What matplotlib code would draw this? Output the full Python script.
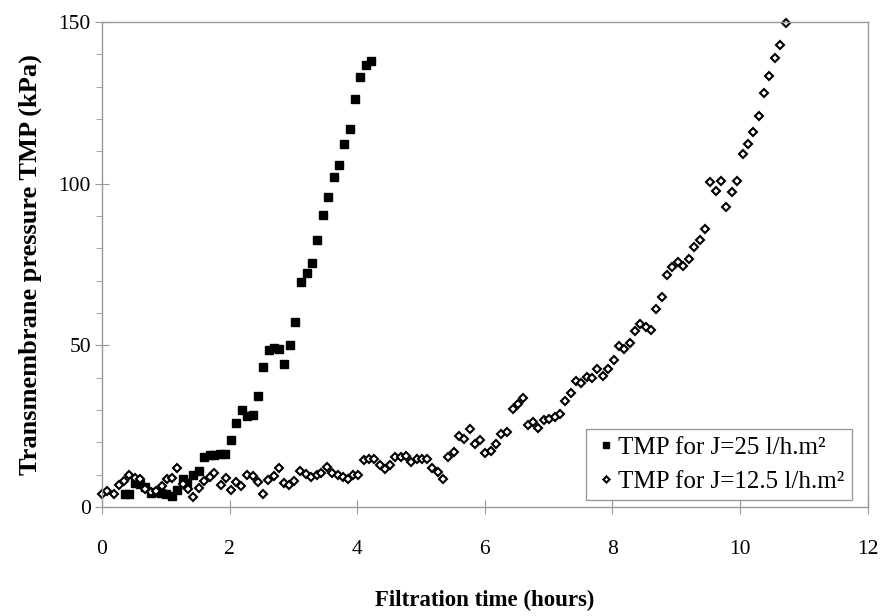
import matplotlib
matplotlib.use("Agg")
import matplotlib.pyplot as plt
from matplotlib.ticker import MultipleLocator

# TMP for J=25 l/h.m2
t25 = [0.36, 0.43, 0.52, 0.60, 0.68, 0.76, 0.84, 0.93, 1.01, 1.10, 1.18, 1.27,
       1.33, 1.43, 1.52, 1.60, 1.69, 1.76, 1.85, 1.93, 2.02, 2.10, 2.19, 2.28,
       2.36, 2.44, 2.52, 2.61, 2.70, 2.78, 2.86, 2.94, 3.03, 3.12, 3.21, 3.29,
       3.37, 3.46, 3.54, 3.63, 3.71, 3.80, 3.88, 3.96, 4.05, 4.13, 4.22]
tmp25 = [4.0, 4.0, 7.3, 7.1, 6.3, 4.2, 4.5, 4.2, 4.0, 3.4, 5.3, 8.6,
         7.5, 9.9, 11.1, 15.4, 16.0, 16.2, 16.4, 16.4, 20.7, 25.9, 30.0, 28.2,
         28.5, 34.4, 43.3, 48.6, 49.1, 48.9, 44.3, 50.0, 57.3, 69.6, 72.5, 75.5,
         82.5, 90.2, 95.8, 102.0, 105.8, 112.3, 116.8, 126.2, 132.9, 136.7, 137.9]

# TMP for J=12.5 l/h.m2
t125 = [0.00, 0.08, 0.18, 0.26, 0.35, 0.43, 0.52, 0.60, 0.68, 0.76, 0.85, 0.94,
        1.02, 1.10, 1.18, 1.27, 1.35, 1.43, 1.52, 1.60, 1.69, 1.76, 1.86, 1.94,
        2.02, 2.10, 2.18, 2.27, 2.36, 2.44, 2.52, 2.60, 2.69, 2.78, 2.86, 2.93,
        3.01, 3.11, 3.20, 3.28, 3.37, 3.44, 3.53, 3.61, 3.70, 3.77, 3.85, 3.94,
        4.02, 4.10, 4.18, 4.27, 4.35, 4.43, 4.52, 4.60, 4.68, 4.77, 4.85, 4.94,
        5.02, 5.10, 5.18, 5.27, 5.35, 5.43, 5.52, 5.60, 5.67, 5.76, 5.85, 5.93,
        6.01, 6.09, 6.18, 6.26, 6.35, 6.44, 6.52, 6.60, 6.68, 6.76, 6.84, 6.93,
        7.01, 7.10, 7.18, 7.26, 7.35, 7.43, 7.51, 7.60, 7.68, 7.76, 7.85, 7.93,
        8.02, 8.10, 8.18, 8.27, 8.35, 8.44, 8.52, 8.60, 8.69, 8.77, 8.86, 8.94,
        9.03, 9.11, 9.20, 9.28, 9.37, 9.45, 9.53, 9.62, 9.70, 9.78, 9.87, 9.95,
        10.04, 10.12, 10.20, 10.29, 10.38, 10.46, 10.55, 10.63, 10.72]
tmp125 = [3.9, 4.9, 3.9, 6.7, 8.0, 9.9, 9.1, 8.6, 5.5, 4.5, 5.0, 6.5,
          8.7, 8.9, 12.0, 7.0, 5.5, 3.0, 6.0, 8.0, 9.2, 10.6, 6.8, 9.1,
          5.3, 7.8, 6.6, 9.9, 9.6, 7.8, 4.1, 8.2, 9.6, 12.0, 7.3, 6.8,
          8.0, 11.1, 10.2, 9.4, 9.9, 10.6, 12.5, 10.4, 9.9, 9.2, 8.6, 9.9,
          9.9, 14.5, 14.9, 14.9, 13.0, 11.7, 13.0, 15.4, 15.4, 15.8, 13.8, 14.7,
          14.7, 14.7, 12.2, 10.9, 8.7, 15.5, 16.9, 22.1, 21.0, 24.1, 19.4, 20.7,
          16.8, 17.4, 19.4, 22.6, 23.3, 30.3, 31.9, 33.8, 25.4, 26.4, 24.5, 26.9,
          27.1, 27.9, 28.8, 32.8, 35.2, 39.0, 38.3, 40.3, 39.8, 42.6, 40.6, 42.6,
          45.5, 49.9, 48.9, 50.8, 54.4, 56.6, 55.8, 54.7, 61.1, 65.0, 71.8, 74.1,
          75.9, 74.6, 76.7, 80.4, 82.6, 86.1, 100.4, 97.7, 101.0, 92.8, 97.3, 101.0,
          109.1, 112.2, 116.1, 120.9, 128.2, 133.4, 138.8, 142.9, 149.6]

plt.rcParams['font.family'] = ['Liberation Serif', 'DejaVu Serif']

fig = plt.figure(figsize=(8.81, 6.16), dpi=100)
ax = fig.add_axes([0.1158, 0.177, 0.869, 0.787])

ax.plot(t25, tmp25, linestyle='none', marker='s', markersize=6,
        color='black', label='TMP for J=25 l/h.m²', clip_on=False)
ax.plot(t125, tmp125, linestyle='none', marker='D', markersize=4.5,
        markerfacecolor='white', markeredgecolor='black', markeredgewidth=1.5,
        label='TMP for J=12.5 l/h.m²', clip_on=False)

ax.set_xlim(0, 12)
ax.set_ylim(0, 150)
ax.xaxis.set_major_locator(MultipleLocator(2))
ax.yaxis.set_major_locator(MultipleLocator(50))
ax.yaxis.set_minor_locator(MultipleLocator(10))

for s in ax.spines.values():
    s.set_color('#999999')
    s.set_linewidth(1)

ax.tick_params(axis='x', which='major', direction='inout', length=10,
               color='#999999', labelsize=15.5, pad=19)
ax.tick_params(axis='y', which='major', direction='inout', length=10,
               color='#999999', labelsize=15.5, pad=3)
ax.tick_params(axis='y', which='minor', direction='out', length=4,
               color='#999999')

ax.set_xlabel('Filtration time (hours)', fontsize=16.5, fontweight='bold', labelpad=22)
ax.set_ylabel('Transmembrane pressure TMP (kPa)', fontsize=19, fontweight='bold', labelpad=12)

leg = ax.legend(loc='lower right', bbox_to_anchor=(0.98, 0.014), fontsize=18,
                fancybox=False, framealpha=1, edgecolor='#999999', borderaxespad=0,
                handletextpad=0.0, handlelength=1, borderpad=0.3, labelspacing=0.45,
                markerscale=0.7)
leg.get_frame().set_linewidth(1)

fig.savefig('out.png', dpi=100)
